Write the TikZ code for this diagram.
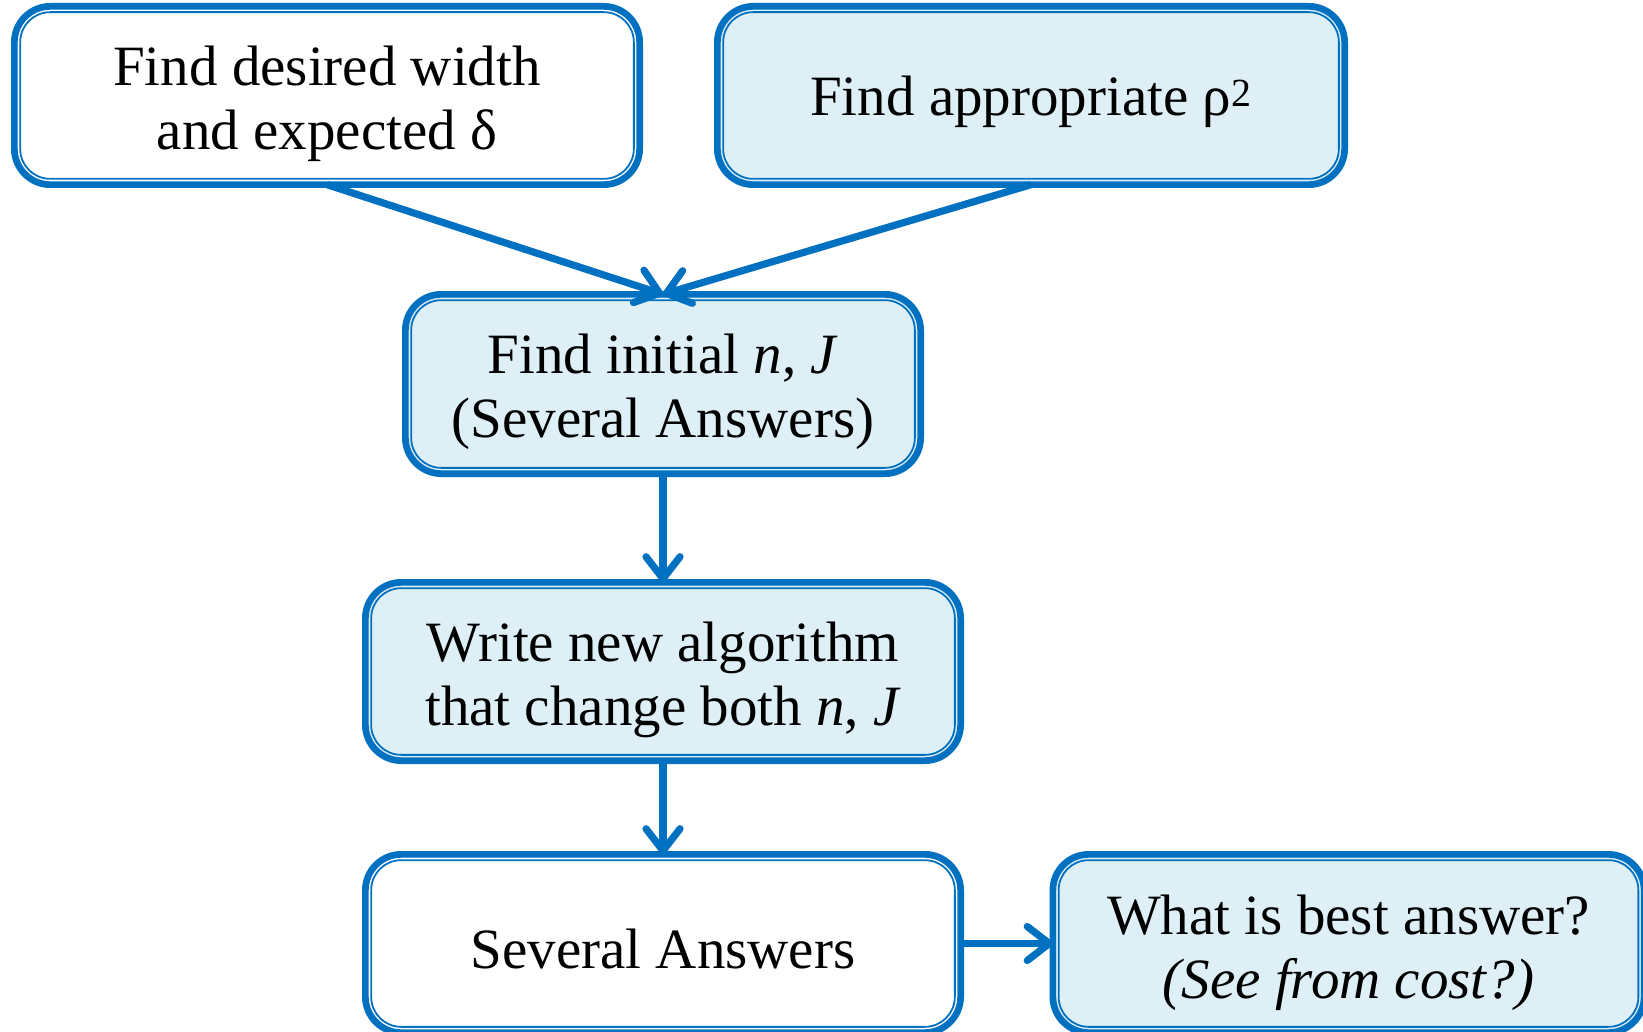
\documentclass[tikz,border=0pt]{standalone}
\usepackage{fontspec}
\setmainfont{Liberation Serif}
\usetikzlibrary{arrows.meta}
\definecolor{myblue}{RGB}{0,112,192}
\definecolor{myfill}{RGB}{222,239,245}
\begin{document}
\begin{tikzpicture}[x=1pt,y=1pt,
  boxw/.style={draw=myblue, line width=6.7pt, rounded corners=36pt, outer sep=0pt, inner sep=0pt},
  boxf/.style={boxw, fill=myfill},
  txt/.style={align=center, inner sep=0pt, font=\fontsize{57}{64}\selectfont},
  innerline/.style={draw=myblue, line width=1.8pt, rounded corners=30pt},
  conn/.style={draw=myblue, line width=7.2pt,
    -{Straight Barb[length=22pt,width=34pt,line cap=round,line join=round]}}
]
\useasboundingbox (0,0) rectangle (1643,-1032);
\node[boxw, minimum width=625.3pt, minimum height=178.3pt] (a) at (327,-95.5) {};
\node[boxf, minimum width=627.3pt, minimum height=178.3pt] (b) at (1031,-95.5) {};
\node[boxf, minimum width=515.3pt, minimum height=179.3pt] (c) at (663,-384) {};
\node[boxf, minimum width=595.3pt, minimum height=178.3pt] (d) at (663,-671.5) {};
\node[boxw, minimum width=595.3pt, minimum height=178.3pt] (e) at (663,-943.5) {};
\node[boxf, minimum width=591.3pt, minimum height=178.3pt] (f) at (1348.5,-943.5) {};
\foreach \n in {a,b,c,d,e,f}
  \draw[innerline] ([xshift=5.8pt,yshift=-5.8pt]\n.north west) rectangle ([xshift=-5.8pt,yshift=5.8pt]\n.south east);
\node[txt] (at) at ([yshift=-8pt]a.center) {Find desired width\\and expected δ};
\node[txt] (bt) at ([yshift=-6pt]b.center) {Find appropriate ρ\textsuperscript{2}};
\node[txt] (ct) at ([yshift=-8pt]c.center) {Find initial \textit{n}, \textit{J}\\(Several Answers)};
\node[txt] (dt) at ([yshift=-8pt]d.center) {Write new algorithm\\that change both \textit{n}, \textit{J}};
\node[txt] (et) at ([yshift=-5pt]e.center) {Several Answers};
\node[txt] (ft) at ([yshift=-9pt]f.center) {What is best answer?\\\textit{(See from cost?)}};
\draw[conn] (a.south) -- (c.north);
\draw[conn] (b.south) -- (c.north);
\draw[conn] (c.south) -- (d.north);
\draw[conn] (d.south) -- (e.north);
\draw[conn] (e.east) -- (f.west);
\end{tikzpicture}
\end{document}
